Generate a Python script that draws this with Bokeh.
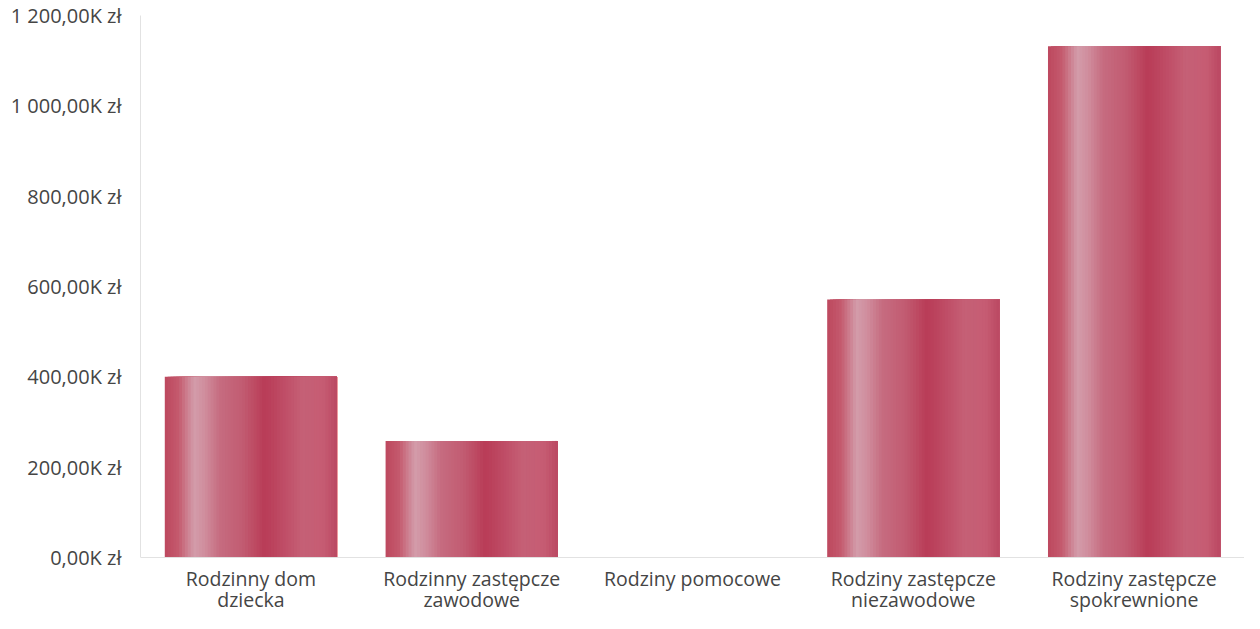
from bokeh.plotting import figure
from bokeh.models import ColumnDataSource, FactorRange, Range1d, FixedTicker, Span
from bokeh.core.properties import value
from bokeh.transform import dodge
from bokeh.embed import file_html
from bokeh.resources import INLINE

# ---- data ----
categories = ["Rodzinny dom dziecka", "Rodzinny zastępcze zawodowe", "Rodziny pomocowe",
              "Rodziny zastępcze niezawodowe", "Rodziny zastępcze spokrewnione"]
label_line1 = ["Rodzinny dom", "Rodzinny zastępcze", "Rodziny pomocowe",
               "Rodziny zastępcze", "Rodziny zastępcze"]
label_line2 = ["dziecka", "zawodowe", "", "niezawodowe", "spokrewnione"]
values_k = [400, 258, 0, 571, 1132]
y_ticks = [0, 200, 400, 600, 800, 1000, 1200]
y_tick_labels = ["0,00K zł", "200,00K zł", "400,00K zł", "600,00K zł", "800,00K zł",
                 "1 000,00K zł", "1 200,00K zł"]

src = ColumnDataSource(dict(cat=categories, val=values_k, l1=label_line1, l2=label_line2,
                            base=[0] * len(categories)))

p = figure(x_range=FactorRange(*categories), y_range=Range1d(-124, 1200),
           width=1244, height=613, output_backend="svg", toolbar_location=None,
           min_border_left=140, min_border_right=0, min_border_top=15, min_border_bottom=0)

# horizontal "cylinder" shading of bars (style only)
stops = [(0.0, (0xbd, 0x48, 0x5e)), (0.08, (0xc4, 0x5a, 0x6e)), (0.17, (0xd3, 0x9c, 0xaa)),
         (0.23, (0xd0, 0x8e, 0x9e)), (0.32, (0xc6, 0x6c, 0x80)), (0.45, (0xc2, 0x5c, 0x72)),
         (0.58, (0xb9, 0x3c, 0x57)), (0.66, (0xbd, 0x48, 0x62)), (0.80, (0xc5, 0x60, 0x76)),
         (0.92, (0xc6, 0x5c, 0x73)), (1.0, (0xbb, 0x48, 0x62))]

def col_at(t):
    for (t0, c0), (t1, c1) in zip(stops[:-1], stops[1:]):
        if t0 <= t <= t1:
            f = (t - t0) / (t1 - t0) if t1 > t0 else 0
            r = [round(a + (b - a) * f) for a, b in zip(c0, c1)]
            return "#%02x%02x%02x" % tuple(r)
    return "#%02x%02x%02x" % stops[-1][1]

bar_w = 0.78
n = 60
sw = bar_w / n
right = bar_w / 2
for i in range(n):
    t = (i + 0.5) / n
    left = -bar_w / 2 + i * sw
    w = right - left
    p.vbar(x=dodge("cat", left + w / 2, range=p.x_range), top="val", bottom=0, width=w,
           source=src, fill_color=col_at(t), line_color=None)

# baseline
p.add_layout(Span(location=0, dimension="width", line_color="#e2e2e2", line_width=1))

# category labels (two lines)
lab_style = dict(text_font=value("Open Sans"), text_font_size="19.5px", text_color="#454545",
                 text_align="center", text_baseline="middle")
p.text(x="cat", y="base", text="l1", y_offset=21, source=src, **lab_style)
p.text(x="cat", y="base", text="l2", y_offset=42, source=src, **lab_style)

p.xgrid.grid_line_color = None
p.ygrid.grid_line_color = None
p.outline_line_color = None
p.background_fill_color = "white"
p.xaxis.visible = False

p.yaxis.ticker = FixedTicker(ticks=y_ticks)
p.yaxis.bounds = (0, 1200)
p.yaxis.major_label_overrides = {t: l for t, l in zip(y_ticks, y_tick_labels)}
p.yaxis.axis_line_color = "#e2e2e2"
p.yaxis.major_tick_line_color = None
p.yaxis.minor_tick_line_color = None
p.yaxis.major_label_text_font = "Open Sans"
p.yaxis.major_label_text_color = "#454545"
p.yaxis.major_label_text_font_size = "20px"
p.yaxis.major_label_standoff = 13
p.x_range.range_padding = 0.0

open("out.html", "w").write(file_html(p, INLINE))
